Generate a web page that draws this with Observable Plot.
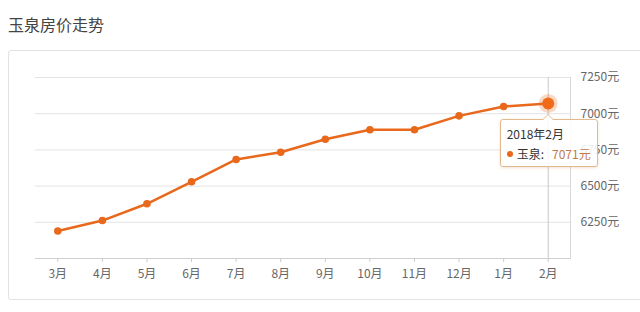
<!DOCTYPE html>
<html>
<head>
<meta charset="utf-8">
<script src="https://cdn.jsdelivr.net/npm/d3@7"></script>
<script src="https://cdn.jsdelivr.net/npm/@observablehq/plot@0.6"></script>
<style>
  html, body { margin: 0; padding: 0; background: #fff; }
  body { width: 640px; height: 312px; position: relative; overflow: hidden;
         font-family: "Noto Sans CJK SC", "Noto Sans", sans-serif; }
  #title { position: absolute; left: 8px; top: 14px; font-size: 16px; color: #444; line-height: 20px; }
  #box { position: absolute; left: 8px; top: 50px; width: 660px; height: 250px;
         border: 1px solid #e2e2e2; border-radius: 3px; box-sizing: border-box; }
  #chart { position: absolute; left: 0; top: 0; }
  #tip { position: absolute; width: 98px; height: 48px; box-sizing: border-box;
         background: rgba(255,255,255,0.88); border: 1px solid #e3b88f; border-radius: 3px;
         box-shadow: 0 1px 3px rgba(200,140,80,0.25); font-size: 12px; color: #333; }
  #tip .l1 { position: absolute; left: 6px; top: 5px; }
  #tip .l2 { position: absolute; left: 6px; top: 25px; white-space: nowrap; }
  #tip .dot { display: inline-block; width: 6px; height: 6px; border-radius: 3px; background: #e8681c; margin-right: 4px; vertical-align: 2px; }
  #tip .val { color: #c4784a; margin-left: 8px; }
  #tip .arrow { position: absolute; top: -6px; width: 0; height: 0;
         border-left: 6px solid transparent; border-right: 6px solid transparent; border-bottom: 6px solid #e3b88f; }
  #tip .arrow2 { position: absolute; top: -5px; width: 0; height: 0;
         border-left: 5px solid transparent; border-right: 5px solid transparent; border-bottom: 5px solid #fff; }
</style>
</head>
<body>
<div id="title">玉泉房价走势</div>
<div id="box"></div>
<div id="chart"></div>
<script>
const months = ["3月","4月","5月","6月","7月","8月","9月","10月","11月","12月","1月","2月"];
const prices = [6190, 6262, 6378, 6530, 6684, 6734, 6824, 6889, 6889, 6985, 7050, 7071];
const yTicks = [6250, 6500, 6750, 7000, 7250];
const tipTitle = "2018年2月";
const seriesName = "玉泉";

const data = months.map((m, i) => ({month: m, price: prices[i]}));
const last = data[data.length - 1];
const orange = "#e8681c";

const plot = Plot.plot({
  width: 640,
  height: 312,
  marginLeft: 35,
  marginRight: 70,
  marginTop: 77,
  marginBottom: 54,
  style: {fontFamily: '"Noto Sans CJK SC", sans-serif', fontSize: "12px", background: "transparent"},
  x: {type: "point", domain: months, padding: 0.5, round: false},
  y: {domain: [6000, 7250]},
  marks: [
    Plot.ruleY(yTicks, {stroke: "#e3e3e3"}),
    Plot.ruleY([6000], {stroke: "#d0d0d0"}),
    Plot.frame({anchor: "right", stroke: "#d8d8d8"}),
    Plot.ruleX([last.month], {y1: 6000, y2: 7250, stroke: "#c8c8c8"}),
    Plot.axisY(yTicks, {anchor: "right", tickSize: 0, tickPadding: 10, label: null,
      tickFormat: d => d + "元", fill: "#666", fontSize: 12, textAnchor: "start"}),
    Plot.axisX({tickSize: 4, tickPadding: 7, label: null, stroke: "#ccc", fill: "#666", fontSize: 12}),
    Plot.line(data, {x: "month", y: "price", stroke: orange, strokeWidth: 2.5}),
    Plot.dot(data, {x: "month", y: "price", r: 3.8, fill: orange}),
    Plot.dot([last], {x: "month", y: "price", r: 9.5, fill: orange, fillOpacity: 0.25}),
    Plot.dot([last], {x: "month", y: "price", r: 6, fill: "#f06a18"})
  ]
});
document.getElementById("chart").appendChild(plot);

// tooltip positioned from the scales
const px = plot.scale("x").apply(last.month);
const py = plot.scale("y").apply(last.price);
const tip = document.createElement("div");
tip.id = "tip";
const left = px - 48;
tip.style.left = left + "px";
tip.style.top = (py + 16) + "px";
tip.innerHTML = `<div class="arrow" style="left:${px - left - 7}px"></div>` +
  `<div class="arrow2" style="left:${px - left - 6}px"></div>` +
  `<div class="l1">${tipTitle}</div>` +
  `<div class="l2"><span class="dot"></span>${seriesName}:<span class="val">${last.price}元</span></div>`;
document.body.appendChild(tip);
</script>
</body>
</html>
